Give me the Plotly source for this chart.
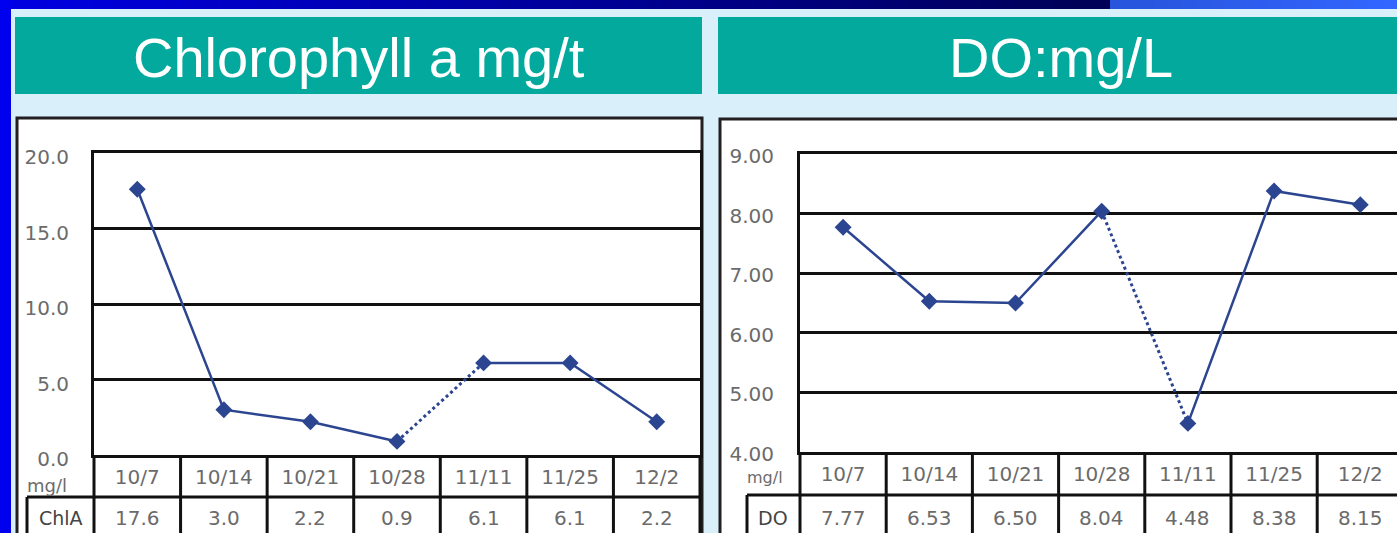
import plotly.graph_objects as go

W, H = 1397, 533

# ---------------- data ----------------
dates = ["10/7", "10/14", "10/21", "10/28", "11/11", "11/25", "12/2"]
chl_values = [17.6, 3.0, 2.2, 0.9, 6.1, 6.1, 2.2]
do_values = [7.77, 6.53, 6.50, 8.04, 4.48, 8.38, 8.15]
gap_index = 3  # sampling gap between 10/28 and 11/11 -> dotted segment
chl_ticks = [0, 5, 10, 15, 20]
chl_ticktext = ["0.0", "5.0", "10.0", "15.0", "20.0"]
do_ticks = [4, 5, 6, 7, 8, 9]
do_ticktext = ["4.00", "5.00", "6.00", "7.00", "8.00", "9.00"]
titles = ["Chlorophyll a mg/t", "DO:mg/L"]
row_labels = ["ChlA", "DO"]
unit_label = "mg/l"

# ---------------- styling helpers ----------------
def px(x):
    return x / W

def py(y):
    return 1 - y / H

LINE_COL = "#2c4590"
GRID_COL = "#111111"
BORDER_COL = "#231f20"
TEXT_COL = "#6b6b6b"
TEAL = "#02a99c"
BG = "#d9effa"
TICK_FONT = dict(family="DejaVu Sans", size=20, color=TEXT_COL)

fig = go.Figure()

def add_series(xaxis, yaxis, values):
    segs = [(0, gap_index + 1, "solid"), (gap_index, gap_index + 2, "dot"),
            (gap_index + 1, len(values), "solid")]
    for a, b, dash in segs:
        fig.add_trace(go.Scatter(
            x=dates[a:b], y=values[a:b], xaxis=xaxis, yaxis=yaxis,
            mode="lines+markers" if dash == "solid" else "lines",
            line=dict(color=LINE_COL, width=2.5 if dash == "solid" else 3, dash=dash),
            marker=dict(symbol="diamond", size=13, color=LINE_COL),
            showlegend=False, hoverinfo="x+y", cliponaxis=False))

add_series("x", "y", chl_values)
add_series("x2", "y2", do_values)

# geometry of the two panels (pixels)
L = dict(x0=94, x1=700, top=153, bottom=455, row=497, cell=27)
R = dict(x0=800, x1=W, top=154, bottom=452, row=495, cell=747)
band_r = 86.2
r_range_hi = -0.5 + (R["x1"] - R["x0"]) / band_r

axis_common = dict(showline=True, linecolor=GRID_COL, linewidth=3, fixedrange=True,
                   automargin=False)

fig.update_layout(
    template="none",
    width=W, height=H, margin=dict(l=0, r=0, t=0, b=0, pad=0, autoexpand=False),
    paper_bgcolor=BG, plot_bgcolor="white", showlegend=False,
    xaxis=dict(domain=[px(L["x0"]), px(L["x1"])], range=[-0.5, 6.5], type="category",
               categoryorder="array", categoryarray=dates,
               showgrid=False, mirror=True, ticks="", tickfont=TICK_FONT,
               ticklabelstandoff=2, anchor="y", **axis_common),
    yaxis=dict(domain=[py(L["bottom"]), py(L["top"])], range=[0, 20],
               tickvals=chl_ticks, ticktext=chl_ticktext, showgrid=True,
               gridcolor=GRID_COL, gridwidth=3, zeroline=False, mirror=True,
               ticks="", tickfont=TICK_FONT, ticklabelstandoff=18, ticklabelshift=4,
               anchor="x", **axis_common),
    xaxis2=dict(domain=[px(R["x0"]), 1], range=[-0.5, r_range_hi], type="category",
                categoryorder="array", categoryarray=dates,
                showgrid=False, mirror=True, ticks="", tickfont=TICK_FONT,
                ticklabelstandoff=2, anchor="y2", **axis_common),
    yaxis2=dict(domain=[py(R["bottom"]), py(R["top"])], range=[4, 9],
                tickvals=do_ticks, ticktext=do_ticktext, showgrid=True,
                gridcolor=GRID_COL, gridwidth=3, zeroline=False, mirror=False,
                ticks="", tickfont=TICK_FONT, ticklabelstandoff=19, ticklabelshift=2,
                anchor="x2", **axis_common),
)

shapes = []
# top gradient bar
n = 60
for i in range(n):
    t = i / (n - 1)
    b = int(226 - 140 * t)
    shapes.append(dict(type="rect", xref="paper", yref="paper", layer="below",
                       x0=px(1110 * i / n), x1=px(1110 * (i + 1) / n + 1),
                       y0=py(9), y1=1, line_width=0, fillcolor=f"rgb(0,0,{b})"))
for i in range(20):
    t = i / 19
    shapes.append(dict(type="rect", xref="paper", yref="paper", layer="below",
                       x0=px(1110 + (W - 1110) * i / 20), x1=px(1110 + (W - 1110) * (i + 1) / 20 + 1),
                       y0=py(9), y1=1, line_width=0,
                       fillcolor=f"rgb({int(40 + 11 * t)},{int(85 + 17 * t)},{int(220 + 35 * t)})"))
# left blue strip
shapes.append(dict(type="rect", xref="paper", yref="paper", layer="below",
                   x0=0, x1=px(11), y0=0, y1=1, line_width=0, fillcolor="#0000ee"))
# teal title boxes
shapes.append(dict(type="rect", xref="paper", yref="paper", layer="below",
                   x0=px(15), x1=px(702), y0=py(94), y1=py(17), line_width=0, fillcolor=TEAL))
shapes.append(dict(type="rect", xref="paper", yref="paper", layer="below",
                   x0=px(718), x1=px(W + 5), y0=py(94), y1=py(17), line_width=0, fillcolor=TEAL))
# white panels
shapes.append(dict(type="rect", xref="paper", yref="paper", layer="below",
                   x0=px(17), x1=px(702), y0=py(545), y1=py(118),
                   line=dict(color=BORDER_COL, width=3), fillcolor="white"))
shapes.append(dict(type="rect", xref="paper", yref="paper", layer="below",
                   x0=px(720), x1=px(W + 10), y0=py(545), y1=py(119),
                   line=dict(color=BORDER_COL, width=3), fillcolor="white"))

# data tables under the plots
def table(xref, geo):
    ln = dict(color=GRID_COL, width=3)
    shapes.append(dict(type="line", xref="paper", yref="paper",
                       x0=px(geo["cell"]), x1=px(geo["x1"]), y0=py(geo["row"]), y1=py(geo["row"]), line=ln))
    shapes.append(dict(type="line", xref="paper", yref="paper",
                       x0=px(geo["x0"]), x1=px(geo["x0"]), y0=py(geo["bottom"]), y1=py(545), line=ln))
    shapes.append(dict(type="line", xref="paper", yref="paper",
                       x0=px(geo["cell"]), x1=px(geo["cell"]), y0=py(geo["row"]), y1=py(545), line=ln))
    if geo["x1"] < W:
        shapes.append(dict(type="line", xref="paper", yref="paper",
                           x0=px(geo["x1"]), x1=px(geo["x1"]), y0=py(geo["bottom"]), y1=py(545), line=ln))
    for i in range(len(dates) - 1):
        shapes.append(dict(type="line", xref=xref, yref="paper",
                           x0=i + 0.5, x1=i + 0.5, y0=py(geo["bottom"]), y1=py(545), line=ln))

table("x", L)
table("x2", R)

annotations = []
# titles
for t, cx in zip(titles, [359, 1061]):
    annotations.append(dict(text=t, xref="paper", yref="paper", x=px(cx), y=py(57),
                            xanchor="center", yanchor="middle", showarrow=False,
                            font=dict(family="Liberation Sans, Arial", size=56, color="white")))
# value rows
for xref, vals, fmt in [("x", chl_values, "{:.1f}"), ("x2", do_values, "{:.2f}")]:
    for d, v in zip(dates, vals):
        annotations.append(dict(text=fmt.format(v), xref=xref, yref="paper", x=d, y=py(518),
                                xanchor="center", yanchor="middle", showarrow=False,
                                font=TICK_FONT))
# row labels
for lab, cx in zip(row_labels, [61, 773]):
    annotations.append(dict(text=lab, xref="paper", yref="paper", x=px(cx), y=py(518),
                            xanchor="center", yanchor="middle", showarrow=False,
                            font=dict(family="DejaVu Sans", size=19, color="#444")))
# unit labels
for cx, cy, fs in [(47, 485, 18), (765, 477, 16)]:
    annotations.append(dict(text=unit_label, xref="paper", yref="paper", x=px(cx), y=py(cy),
                            xanchor="center", yanchor="middle", showarrow=False,
                            font=dict(family="DejaVu Sans", size=fs, color=TEXT_COL)))

fig.update_layout(shapes=shapes, annotations=annotations)
fig.write_html("out.html")
